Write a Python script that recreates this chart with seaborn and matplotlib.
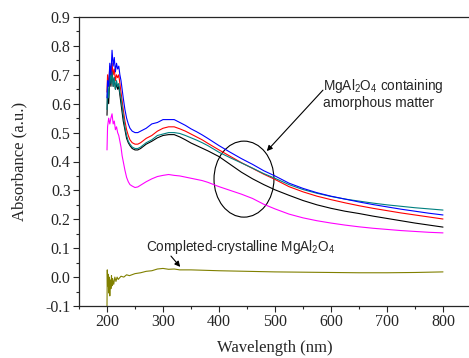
import numpy as np
import pandas as pd
import matplotlib
matplotlib.use("Agg")
import matplotlib.pyplot as plt
import seaborn as sns
from matplotlib.patches import Ellipse
from matplotlib.ticker import MultipleLocator, FormatStrFormatter

# wavelength grid for the five amorphous-matter spectra
wl_main = [200, 201, 203, 205, 207, 209, 211, 213, 215, 217, 219, 221, 223, 225, 227, 229,
           232, 235, 238, 241, 245, 250, 255, 260, 270, 280, 290, 300, 310, 320, 330, 340,
           350, 360, 370, 380, 400, 420, 440, 460, 480, 500, 525, 550, 575, 600, 625, 650,
           675, 700, 725, 750, 775, 800]

blue = [0.62, 0.68, 0.66, 0.74, 0.70, 0.785, 0.73, 0.76, 0.71, 0.74, 0.72, 0.73, 0.70, 0.68, 0.65, 0.62,
        0.58, 0.55, 0.53, 0.515, 0.505, 0.50, 0.50, 0.505, 0.515, 0.53, 0.535, 0.545, 0.545, 0.545, 0.535, 0.525,
        0.513, 0.503, 0.492, 0.48, 0.455, 0.432, 0.41, 0.39, 0.368, 0.35, 0.325, 0.307, 0.292, 0.28, 0.27, 0.26,
        0.251, 0.243, 0.235, 0.228, 0.221, 0.215]

red = [0.64, 0.70, 0.66, 0.73, 0.69, 0.74, 0.70, 0.72, 0.68, 0.70, 0.69, 0.70, 0.67, 0.64, 0.61, 0.58,
       0.54, 0.51, 0.49, 0.475, 0.465, 0.46, 0.46, 0.465, 0.48, 0.49, 0.505, 0.515, 0.52, 0.52, 0.513, 0.505,
       0.495, 0.485, 0.475, 0.463, 0.44, 0.418, 0.396, 0.376, 0.356, 0.338, 0.313, 0.295, 0.28, 0.268, 0.257, 0.247,
       0.238, 0.23, 0.222, 0.215, 0.208, 0.201]

teal = [0.58, 0.66, 0.62, 0.72, 0.67, 0.71, 0.66, 0.69, 0.65, 0.68, 0.66, 0.67, 0.64, 0.62, 0.59, 0.56,
        0.52, 0.49, 0.47, 0.46, 0.45, 0.445, 0.445, 0.45, 0.465, 0.475, 0.49, 0.495, 0.50, 0.50, 0.497, 0.49,
        0.482, 0.474, 0.465, 0.455, 0.432, 0.413, 0.395, 0.377, 0.358, 0.342, 0.32, 0.303, 0.29, 0.279, 0.27, 0.263,
        0.256, 0.25, 0.245, 0.24, 0.236, 0.232]

black = [0.56, 0.64, 0.60, 0.70, 0.66, 0.72, 0.66, 0.69, 0.65, 0.67, 0.65, 0.66, 0.63, 0.60, 0.57, 0.54,
         0.51, 0.48, 0.465, 0.455, 0.445, 0.44, 0.44, 0.445, 0.46, 0.47, 0.482, 0.49, 0.493, 0.493, 0.485, 0.475,
         0.464, 0.455, 0.446, 0.437, 0.417, 0.39, 0.363, 0.34, 0.32, 0.302, 0.283, 0.265, 0.25, 0.238, 0.228, 0.22,
         0.211, 0.203, 0.195, 0.187, 0.18, 0.173]

magenta = [0.44, 0.52, 0.55, 0.53, 0.55, 0.565, 0.53, 0.54, 0.51, 0.52, 0.50, 0.49, 0.47, 0.45, 0.42, 0.40,
           0.37, 0.345, 0.33, 0.32, 0.315, 0.31, 0.312, 0.318, 0.33, 0.34, 0.348, 0.352, 0.355, 0.352, 0.35, 0.346,
           0.342, 0.338, 0.334, 0.328, 0.313, 0.30, 0.287, 0.272, 0.252, 0.236, 0.218, 0.205, 0.195, 0.187, 0.18, 0.174,
           0.169, 0.165, 0.161, 0.158, 0.155, 0.153]

# completed-crystalline spectrum
wl_cryst = [200, 200.5, 201, 202, 203, 204, 205, 206, 207, 208, 209, 210, 212, 214, 216, 218, 220, 225,
            230, 235, 240, 250, 260, 270, 280, 290, 300, 310, 320, 330, 350, 400, 450, 500, 550, 600,
            650, 700, 750, 800]
olive = [-0.10, 0.025, -0.03, 0.01, -0.055, 0.0, -0.065, -0.01, -0.04, 0.005, -0.03, -0.005, -0.025, 0.0,
         -0.015, 0.0, -0.008, 0.003, 0.0, 0.008, 0.005, 0.012, 0.015, 0.02, 0.022, 0.028, 0.03, 0.027, 0.028,
         0.025, 0.025, 0.022, 0.02, 0.018, 0.017, 0.016, 0.015, 0.015, 0.016, 0.018]

sns.set_style("ticks")
plt.rcParams['font.family'] = ['Liberation Serif', 'DejaVu Serif']
plt.rcParams['mathtext.fontset'] = 'custom'
plt.rcParams['mathtext.rm'] = 'Liberation Sans'
plt.rcParams['mathtext.it'] = 'Liberation Sans'

fig = plt.figure(figsize=(4.69, 3.58), dpi=100)
ax = fig.add_axes([79 / 469, 52 / 358, 392 / 469, 289 / 358])

series = [(black, 'black'), (red, '#ff0000'), (teal, '#008080'), (blue, '#0000ff'), (magenta, '#ff00ff')]
for vals, col in series:
    sns.lineplot(x=wl_main, y=vals, color=col, lw=0.8, ax=ax, estimator=None, sort=False)
sns.lineplot(x=wl_cryst, y=olive, color='#808000', lw=0.8, ax=ax, estimator=None, sort=False)

ax.set_xlim(150, 850)
ax.set_ylim(-0.1, 0.9)
ax.xaxis.set_major_locator(MultipleLocator(100))
ax.xaxis.set_minor_locator(MultipleLocator(50))
ax.yaxis.set_major_locator(MultipleLocator(0.1))
ax.yaxis.set_minor_locator(MultipleLocator(0.05))
ax.set_xticks([200, 300, 400, 500, 600, 700, 800])
ax.yaxis.set_major_formatter(FormatStrFormatter('%.1f'))
ax.tick_params(which='major', direction='out', length=4, width=0.8, labelsize=11.5, pad=2)
ax.tick_params(which='minor', direction='out', length=2.5, width=0.8)
ax.spines['right'].set_visible(False)
for s in ['left', 'bottom', 'top']:
    ax.spines[s].set_linewidth(0.9)

ax.set_xlabel('Wavelength (nm)', fontsize=12, labelpad=7)
ax.set_ylabel('Absorbance (a.u.)', fontsize=12, labelpad=13)

sans = ['Liberation Sans', 'DejaVu Sans']
ax.add_patch(Ellipse((444.6, 0.339), 107, 0.263, fill=False, edgecolor='black', lw=0.8))
ax.annotate('', xy=(482, 0.429), xytext=(589, 0.654),
            arrowprops=dict(arrowstyle='-|>', color='black', lw=0.8, mutation_scale=8))
ax.text(586, 0.692, 'MgAl$_2$O$_4$ containing\namorphous matter', family=sans,
        fontsize=9.8, va='top', ha='left', linespacing=1.1)

ax.annotate('', xy=(334, 0.028), xytext=(311, 0.08),
            arrowprops=dict(arrowstyle='-|>', color='black', lw=0.8, mutation_scale=8))
ax.text(270, 0.104, 'Completed-crystalline MgAl$_2$O$_4$', family=sans,
        fontsize=9.8, va='center', ha='left')

fig.savefig('out.png', dpi=100)
